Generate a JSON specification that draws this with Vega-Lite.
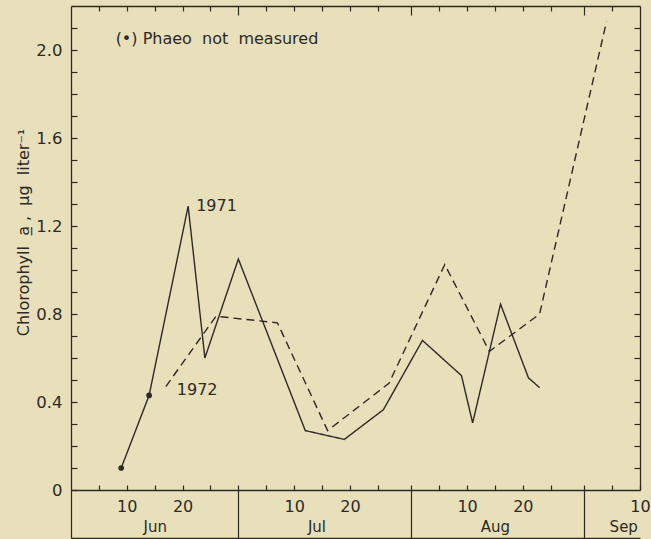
{
  "$schema": "https://vega.github.io/schema/vega-lite/v6.json",
  "width": 569,
  "height": 484,
  "autosize": {"type": "none"},
  "padding": {"left": 71, "top": 6, "right": 11, "bottom": 49},
  "background": "#e8dfbb",
  "config": {
    "view": {"stroke": null},
    "font": "DejaVu Sans",
    "axis": {
      "grid": false,
      "domainColor": "#2d2a25",
      "tickColor": "#2d2a25",
      "labelColor": "#2d2a25",
      "titleColor": "#2d2a25",
      "labelFont": "DejaVu Sans",
      "titleFont": "DejaVu Sans",
      "domainWidth": 1.3,
      "tickWidth": 1.2
    }
  },
  "data": {
    "values": [
      {"year": "1971", "date": "1971-06-09", "chl": 0.10, "phaeo_measured": false, "label": ""},
      {"year": "1971", "date": "1971-06-14", "chl": 0.43, "phaeo_measured": false, "label": ""},
      {"year": "1971", "date": "1971-06-21", "chl": 1.29, "phaeo_measured": true, "label": "1971"},
      {"year": "1971", "date": "1971-06-24", "chl": 0.60, "phaeo_measured": true, "label": ""},
      {"year": "1971", "date": "1971-06-30", "chl": 1.05, "phaeo_measured": true, "label": ""},
      {"year": "1971", "date": "1971-07-12", "chl": 0.27, "phaeo_measured": true, "label": ""},
      {"year": "1971", "date": "1971-07-19", "chl": 0.23, "phaeo_measured": true, "label": ""},
      {"year": "1971", "date": "1971-07-26", "chl": 0.365, "phaeo_measured": true, "label": ""},
      {"year": "1971", "date": "1971-08-02", "chl": 0.68, "phaeo_measured": true, "label": ""},
      {"year": "1971", "date": "1971-08-09", "chl": 0.52, "phaeo_measured": true, "label": ""},
      {"year": "1971", "date": "1971-08-11", "chl": 0.305, "phaeo_measured": true, "label": ""},
      {"year": "1971", "date": "1971-08-16", "chl": 0.845, "phaeo_measured": true, "label": ""},
      {"year": "1971", "date": "1971-08-21", "chl": 0.51, "phaeo_measured": true, "label": ""},
      {"year": "1971", "date": "1971-08-23", "chl": 0.465, "phaeo_measured": true, "label": ""},
      {"year": "1972", "date": "1972-06-17", "chl": 0.47, "phaeo_measured": true, "label": "1972"},
      {"year": "1972", "date": "1972-06-26", "chl": 0.79, "phaeo_measured": true, "label": ""},
      {"year": "1972", "date": "1972-07-07", "chl": 0.76, "phaeo_measured": true, "label": ""},
      {"year": "1972", "date": "1972-07-16", "chl": 0.27, "phaeo_measured": true, "label": ""},
      {"year": "1972", "date": "1972-07-27", "chl": 0.485, "phaeo_measured": true, "label": ""},
      {"year": "1972", "date": "1972-08-06", "chl": 1.025, "phaeo_measured": true, "label": ""},
      {"year": "1972", "date": "1972-08-14", "chl": 0.63, "phaeo_measured": true, "label": ""},
      {"year": "1972", "date": "1972-08-23", "chl": 0.80, "phaeo_measured": true, "label": ""},
      {"year": "1972", "date": "1972-09-04", "chl": 2.13, "phaeo_measured": true, "label": ""}
    ]
  },
  "resolve": {"axis": {"x": "independent", "y": "independent"}},
  "layer": [
    {
      "mark": {"type": "line", "color": "#2d2a25", "strokeWidth": 1.4},
      "encoding": {
        "x": {
          "field": "date", "type": "temporal", "timeUnit": "utcmonthdate",
          "scale": {"domain": [{"month": 5, "date": 31, "utc": true}, {"month": 9, "date": 10, "utc": true}], "nice": false},
          "axis": {
            "orient": "bottom", "title": null,
            "values": [
              {"month": 6, "date": 5, "utc": true}, {"month": 6, "date": 10, "utc": true}, {"month": 6, "date": 15, "utc": true}, {"month": 6, "date": 20, "utc": true}, {"month": 6, "date": 25, "utc": true}, {"month": 6, "date": 30, "utc": true},
              {"month": 7, "date": 5, "utc": true}, {"month": 7, "date": 10, "utc": true}, {"month": 7, "date": 15, "utc": true}, {"month": 7, "date": 20, "utc": true}, {"month": 7, "date": 25, "utc": true}, {"month": 7, "date": 31, "utc": true},
              {"month": 8, "date": 5, "utc": true}, {"month": 8, "date": 10, "utc": true}, {"month": 8, "date": 15, "utc": true}, {"month": 8, "date": 20, "utc": true}, {"month": 8, "date": 25, "utc": true}, {"month": 8, "date": 31, "utc": true},
              {"month": 9, "date": 5, "utc": true}, {"month": 9, "date": 10, "utc": true}
            ],
            "tickSize": -5, "labelPadding": 13, "labelFontSize": 16,
            "labelFlush": false, "labelOverlap": false, "labelBound": false,
            "labelExpr": "(utcdate(datum.value) == 10 || utcdate(datum.value) == 20) ? '' + utcdate(datum.value) : ''"
          }
        },
        "y": {
          "field": "chl", "type": "quantitative",
          "scale": {"domain": [0, 2.2], "nice": false},
          "axis": {
            "orient": "left",
            "values": [0, 0.1, 0.2, 0.3, 0.4, 0.5, 0.6, 0.7, 0.8, 0.9, 1.0, 1.1, 1.2, 1.3, 1.4, 1.5, 1.6, 1.7, 1.8, 1.9, 2.0, 2.1],
            "tickSize": -6, "labelPadding": 15, "labelFontSize": 16.5, "labelOverlap": false, "labelBound": false, "labelFlush": false,
            "labelExpr": "datum.value == 0 ? '0' : (abs(datum.value * 2.5 - round(datum.value * 2.5)) < 0.01 ? format(datum.value, '.1f') : '')",
            "title": "Chlorophyll\u00a0\u00a0a\u0332\u00a0,\u00a0\u00a0μg\u00a0\u00a0liter⁻¹",
            "titleFontSize": 16, "titleFontWeight": "normal",
            "titleX": -40, "titleY": 226
          }
        },
        "strokeDash": {
          "field": "year", "type": "nominal",
          "scale": {"domain": ["1971", "1972"], "range": [[1, 0], [8, 5]]},
          "legend": null
        }
      }
    },
    {
      "transform": [{"filter": "datum.phaeo_measured === false"}],
      "mark": {"type": "point", "filled": true, "color": "#2d2a25", "size": 32, "opacity": 1},
      "encoding": {
        "x": {
          "field": "date", "type": "temporal", "timeUnit": "utcmonthdate",
          "axis": {
            "orient": "top", "title": null, "labels": false,
            "values": [
              {"month": 6, "date": 5, "utc": true}, {"month": 6, "date": 10, "utc": true}, {"month": 6, "date": 15, "utc": true}, {"month": 6, "date": 20, "utc": true}, {"month": 6, "date": 25, "utc": true}, {"month": 6, "date": 30, "utc": true},
              {"month": 7, "date": 5, "utc": true}, {"month": 7, "date": 10, "utc": true}, {"month": 7, "date": 15, "utc": true}, {"month": 7, "date": 20, "utc": true}, {"month": 7, "date": 25, "utc": true}, {"month": 7, "date": 31, "utc": true},
              {"month": 8, "date": 5, "utc": true}, {"month": 8, "date": 10, "utc": true}, {"month": 8, "date": 15, "utc": true}, {"month": 8, "date": 20, "utc": true}, {"month": 8, "date": 25, "utc": true}, {"month": 8, "date": 31, "utc": true},
              {"month": 9, "date": 5, "utc": true}
            ],
            "tickSize": {"condition": {"test": "utcdate(datum.value) >= 30", "value": -9}, "value": -5}
          }
        },
        "y": {
          "field": "chl", "type": "quantitative",
          "axis": {
            "orient": "right", "title": null, "labels": false,
            "values": [0.1, 0.2, 0.3, 0.4, 0.5, 0.6, 0.7, 0.8, 0.9, 1.0, 1.1, 1.2, 1.3, 1.4, 1.5, 1.6, 1.7, 1.8, 1.9, 2.0, 2.1],
            "tickSize": -6
          }
        }
      }
    },
    {
      "transform": [{"filter": "datum.label == '1971'"}],
      "mark": {"type": "text", "align": "left", "baseline": "middle", "dx": 8, "dy": 0, "fontSize": 16, "color": "#2d2a25"},
      "encoding": {
        "x": {
          "field": "date", "type": "temporal", "timeUnit": "utcmonthdate",
          "axis": {
            "orient": "bottom", "offset": 48, "title": null, "labels": false,
            "values": [{"month": 5, "date": 31, "utc": true}, {"month": 6, "date": 30, "utc": true}, {"month": 7, "date": 31, "utc": true}, {"month": 8, "date": 31, "utc": true}],
            "tickSize": -48
          }
        },
        "y": {"field": "chl", "type": "quantitative", "axis": null},
        "text": {"field": "label"}
      }
    },
    {
      "transform": [{"filter": "datum.label == '1972'"}],
      "mark": {"type": "text", "align": "left", "baseline": "middle", "dx": 11, "dy": 3, "fontSize": 16, "color": "#2d2a25"},
      "encoding": {
        "x": {
          "field": "date", "type": "temporal", "timeUnit": "utcmonthdate",
          "axis": {
            "orient": "bottom", "title": null, "ticks": false, "domain": false,
            "values": [{"month": 6, "date": 15, "utc": true}, {"month": 7, "date": 14, "utc": true}, {"month": 8, "date": 15, "utc": true}, {"month": 9, "date": 7, "utc": true}],
            "labelPadding": 29, "labelFontSize": 15, "labelFlush": false, "labelOverlap": false, "labelBound": false,
            "labelExpr": "utcFormat(datum.value, '%b')"
          }
        },
        "y": {"field": "chl", "type": "quantitative", "axis": null},
        "text": {"field": "label"}
      }
    },
    {
      "data": {"values": [{"note": "(•)\u00a0Phaeo\u00a0\u00a0not\u00a0\u00a0measured"}]},
      "mark": {"type": "text", "align": "left", "baseline": "middle", "fontSize": 16, "color": "#2d2a25"},
      "encoding": {
        "x": {"datum": {"month": 6, "date": 8, "utc": true}, "type": "temporal", "axis": null},
        "y": {"datum": 2.05, "type": "quantitative", "axis": null},
        "text": {"field": "note"}
      }
    }
  ]
}
